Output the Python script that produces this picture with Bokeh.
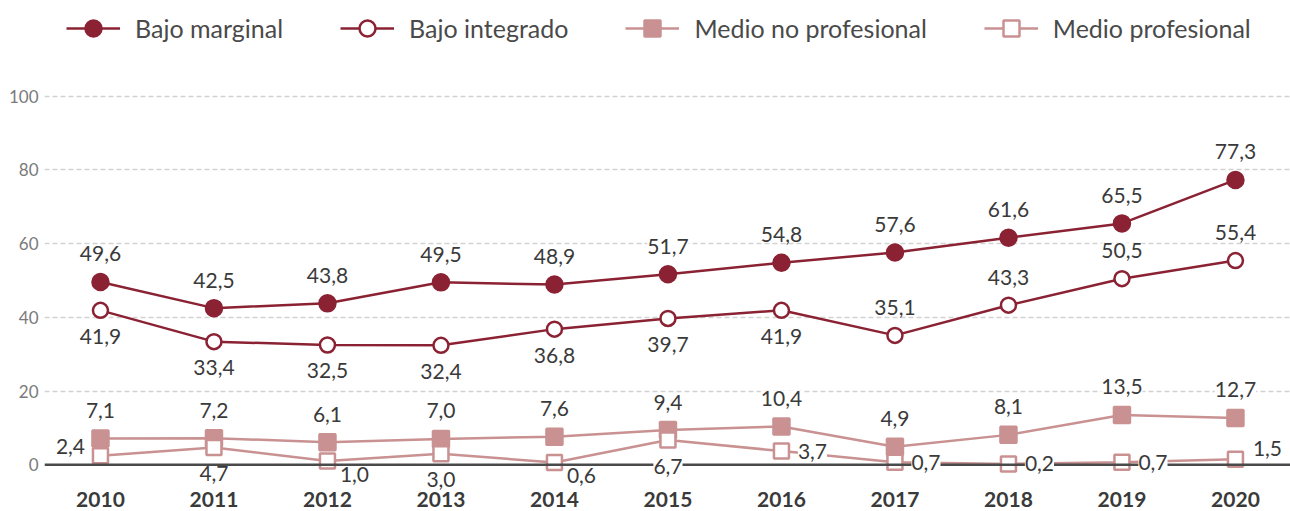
from bokeh.plotting import figure
from bokeh.models import (ColumnDataSource, LabelSet, Span, FixedTicker, Legend,
                          LegendItem, Range1d)
from bokeh.core.properties import value
from bokeh.embed import file_html
from bokeh.resources import INLINE

# ---------------- data ----------------
years = [2010, 2011, 2012, 2013, 2014, 2015, 2016, 2017, 2018, 2019, 2020]
year_labels = [str(y) for y in years]
bajo_marginal = [49.6, 42.5, 43.8, 49.5, 48.9, 51.7, 54.8, 57.6, 61.6, 65.5, 77.3]
bajo_integrado = [41.9, 33.4, 32.5, 32.4, 36.8, 39.7, 41.9, 35.1, 43.3, 50.5, 55.4]
medio_no_profesional = [7.1, 7.2, 6.1, 7.0, 7.6, 9.4, 10.4, 4.9, 8.1, 13.5, 12.7]
medio_profesional = [2.4, 4.7, 1.0, 3.0, 0.6, 6.7, 3.7, 0.7, 0.2, 0.7, 1.5]
series_names = ["Bajo marginal", "Bajo integrado", "Medio no profesional", "Medio profesional"]
y_ticks = [0, 20, 40, 60, 80, 100]

# ---------------- styling ----------------
DARK = "#8B2233"
PINK = "#C99191"
FONT = "Lato"
LABEL_COLOR = "#3a3a3a"
Y_MIN, Y_MAX = -12.7, 126.0
X_MIN, X_MAX = 2009.507, 2020.485

# label placement codes (style only)
OFFSETS = {
    "above": (0, 28), "below": (0, -26), "right": (31, 0), "left": (-30, 9),
    "belowright": (27, -13), "aboveright": (32, 11),
}
place_marginal = ["above"] * 11
place_integrado = ["below"] * 7 + ["above"] * 4
place_no_prof = ["above"] * 11
place_prof = ["left", "below", "belowright", "below", "belowright", "below",
              "right", "right", "right", "right", "aboveright"]


def fmt(v):
    return f"{v:.1f}".replace(".", ",")


p = figure(width=1290, height=511, output_backend="svg", toolbar_location=None,
           x_range=Range1d(X_MIN, X_MAX), y_range=Range1d(Y_MIN, Y_MAX),
           x_axis_location=None,
           min_border_left=44, min_border_right=0, min_border_top=0, min_border_bottom=0)
p.outline_line_color = None
p.background_fill_color = "white"
p.border_fill_color = "white"

# grid
p.xgrid.visible = False
p.ygrid.ticker = FixedTicker(ticks=y_ticks[1:])
p.ygrid.grid_line_color = "#d2d2d2"
p.ygrid.grid_line_dash = "5 3"
p.ygrid.grid_line_width = 1.5

# y axis
p.yaxis.ticker = FixedTicker(ticks=y_ticks)
p.yaxis.axis_line_color = None
p.yaxis.major_tick_line_color = None
p.yaxis.major_tick_out = 0
p.yaxis.major_tick_in = 0
p.yaxis.minor_tick_line_color = None
p.yaxis.minor_tick_out = 0
p.yaxis.major_label_standoff = 6
p.yaxis.major_label_text_font = FONT
p.yaxis.major_label_text_font_size = "17px"
p.yaxis.major_label_text_color = "#7a7a7a"

# zero line
p.add_layout(Span(location=0, dimension="width", line_color="#4a4a4a", line_width=2.5))

# category (year) labels at the bottom of the frame
ysrc = ColumnDataSource(dict(x=years, y=[Y_MIN] * len(years), t=year_labels))
p.text("x", "y", text="t", source=ysrc, text_align="center", text_baseline="bottom",
       y_offset=-5,
       text_font=value(FONT), text_font_size="21px", text_font_style="bold",
       text_color="#3a3a3a")

specs = [
    (bajo_marginal, DARK, "circle", DARK, place_marginal, 16),
    (bajo_integrado, DARK, "circle", "white", place_integrado, 15),
    (medio_no_profesional, PINK, "square", PINK, place_no_prof, 16),
    (medio_profesional, PINK, "square", "white", place_prof, 15),
]

items = []
for name, (vals, col, marker, fill, places, size) in zip(series_names, specs):
    src = ColumnDataSource(dict(
        x=years, y=vals, label=[fmt(v) for v in vals],
        dx=[OFFSETS[k][0] for k in places], dy=[OFFSETS[k][1] for k in places]))
    ln = p.line("x", "y", source=src, line_color=col, line_width=2.5)
    sc = p.scatter("x", "y", source=src, marker=marker, size=size,
                   fill_color=fill, line_color=col, line_width=2.5)
    labels = LabelSet(x="x", y="y", text="label", x_offset="dx", y_offset="dy", source=src,
                      text_align="center", text_baseline="middle",
                      text_font=value(FONT), text_font_size="21px", text_color=LABEL_COLOR,
                      background_fill_color="white")
    p.add_layout(labels)
    items.append(LegendItem(label=name, renderers=[ln, sc]))

legend = Legend(items=items, orientation="horizontal", location=(22, 463),
                glyph_width=54, glyph_height=40, label_standoff=15, spacing=57,
                padding=0, margin=0, border_line_color=None, background_fill_alpha=0,
                label_text_font=FONT, label_text_font_size="25px",
                label_text_color="#4a4a4a")
p.add_layout(legend)

open("out.html", "w").write(file_html(p, INLINE))
